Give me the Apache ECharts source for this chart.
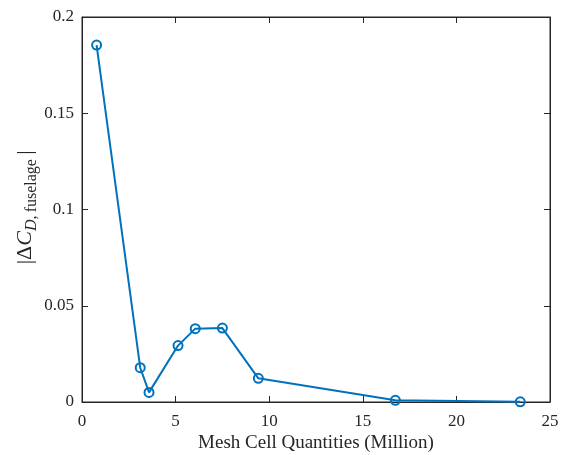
<!DOCTYPE html>
<html>
<head>
<meta charset="utf-8">
<script src="https://cdn.jsdelivr.net/npm/echarts@6/dist/echarts.min.js"></script>
<style>
  html, body { margin: 0; padding: 0; background: #fff; }
  #chart { width: 569px; height: 455px; }
</style>
</head>
<body>
<div id="chart"></div>
<script>
// mesh size (million cells) vs |delta CD| of fuselage
const meshCells = [0.78, 3.11, 3.58, 5.13, 6.05, 7.50, 9.42, 16.74, 23.41]
const deltaCd = [0.1854, 0.0178, 0.0050, 0.0293, 0.0381, 0.0384, 0.0123, 0.0009, 0.0001]

const font = 'Liberation Serif'
const blue = '#0072BD'
const ink = '#262626'

const chart = echarts.init(document.getElementById('chart'))

const axisLine = { show: true, onZero: false, lineStyle: { color: ink, width: 1 } }
const tickIn = { show: true, inside: true, length: 6, lineStyle: { color: ink } }

chart.setOption({
    animation: false,
    grid: {
        left: 82, right: 19, top: 17, bottom: 53,
        outerBoundsMode: 'none', containLabel: false,
        show: true, borderColor: ink, borderWidth: 1
    },
    xAxis: [
        {
            type: 'value', min: 0, max: 25, interval: 5,
            name: 'Mesh Cell Quantities (Million)',
            nameLocation: 'middle', nameGap: 32, nameMoveOverlap: false,
            nameTextStyle: { fontFamily: font, fontSize: 19, color: ink },
            axisLine: axisLine, axisTick: tickIn,
            axisLabel: { fontFamily: font, fontSize: 17, color: ink, margin: 11 },
            splitLine: { show: false }
        },
        {
            type: 'value', min: 0, max: 25, interval: 5, position: 'top',
            axisLine: axisLine, axisTick: tickIn, axisLabel: { show: false }, splitLine: { show: false }
        }
    ],
    yAxis: [
        {
            type: 'value', min: 0, max: 0.2, interval: 0.05,
            name: '{n|\u2009|\u0394}{i|C}{s|D}{sub|,\u2009fuselage}{n|\u2009|}',
            nameLocation: 'middle', nameGap: 42, nameRotate: 90, nameMoveOverlap: false,
            nameTextStyle: {
                fontFamily: font, fontSize: 19, color: ink,
                rich: {
                    n: { fontFamily: font, fontSize: 22, color: ink, lineHeight: 30, verticalAlign: 'middle' },
                    i: { fontFamily: font, fontSize: 22, fontStyle: 'italic', color: ink, lineHeight: 30, verticalAlign: 'middle' },
                    s: { fontFamily: font, fontSize: 16, fontStyle: 'italic', color: ink, lineHeight: 30, verticalAlign: 'bottom' },
                    sub: { fontFamily: font, fontSize: 16, color: ink, lineHeight: 30, verticalAlign: 'bottom' }
                }
            },
            axisLine: axisLine, axisTick: tickIn,
            axisLabel: { fontFamily: font, fontSize: 17, color: ink, margin: 8 },
            splitLine: { show: false }
        },
        {
            type: 'value', min: 0, max: 0.2, interval: 0.05, position: 'right',
            axisLine: axisLine, axisTick: tickIn, axisLabel: { show: false }, splitLine: { show: false }
        }
    ],
    series: [
        {
            type: 'line',
            data: meshCells.map((x, i) => [x, deltaCd[i]]),
            symbol: 'circle', symbolSize: 9,
            lineStyle: { color: blue, width: 2 },
            itemStyle: { color: 'rgba(255,255,255,0)', borderColor: blue, borderWidth: 2 }
        }
    ]
})
</script>
</body>
</html>
